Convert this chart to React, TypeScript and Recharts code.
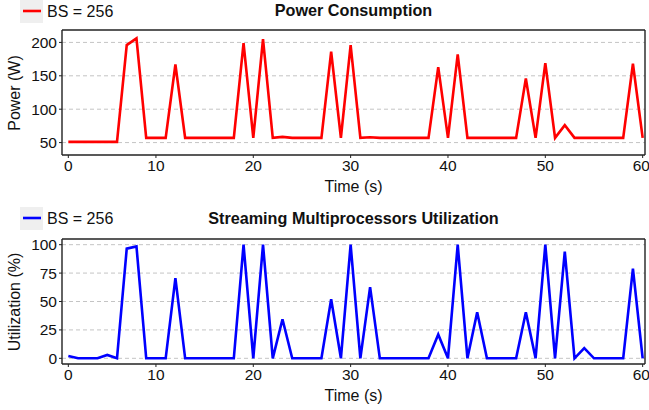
import React from "react";
import { LineChart, Line, XAxis, YAxis, CartesianGrid } from "recharts";

const TIME = [
  1, 2, 3, 4, 5, 6, 7, 8, 9, 10, 11, 12, 13, 14, 15, 16, 17, 18, 19, 20,
  21, 22, 23, 24, 25, 26, 27, 28, 29, 30, 31, 32, 33, 34, 35, 36, 37, 38, 39, 40,
  41, 42, 43, 44, 45, 46, 47, 48, 49, 50, 51, 52, 53, 54, 55, 56, 57, 58, 59, 60,
];

const POWER = [
  51, 51, 51, 51, 51, 51, 196, 206, 57, 57, 57, 167, 57, 57, 57, 57, 57, 57, 199, 57,
  205, 57, 58.5, 57, 57, 57, 57, 186, 57, 196, 57, 58, 57, 57, 57, 57, 57, 57, 163, 57,
  182, 57, 57, 57, 57, 57, 57, 146, 57, 169, 57, 76, 57, 57, 57, 57, 57, 57, 168, 57,
];

const UTIL = [
  2, 0, 0, 0, 3, 0, 96.5, 98.5, 0, 0, 0, 70.6, 0, 0, 0, 0, 0, 0, 100, 0,
  100, 0, 34.4, 0, 0, 0, 0, 52, 0, 100, 0, 62.7, 0, 0, 0, 0, 0, 0, 21, 0,
  100, 0, 40.6, 0, 0, 0, 0, 40.6, 0, 100, 0, 94, 0, 9, 0, 0, 0, 0, 79, 0,
];

const X_TICKS = [1, 10, 20, 30, 40, 50, 60];
const X_TICK_LABELS = ["0", "10", "20", "30", "40", "50", "60"];
const POWER_TICKS = [50, 100, 150, 200];
const POWER_GRID = [50, 75, 100, 125, 150, 175, 200];
const UTIL_TICKS = [0, 25, 50, 75, 100];
const UTIL_GRID = [0, 12.5, 25, 37.5, 50, 62.5, 75, 87.5, 100];
const SERIES_NAME = "BS = 256";

const powerData = TIME.map((t, i) => ({ t, v: POWER[i] }));
const utilData = TIME.map((t, i) => ({ t, v: UTIL[i] }));

const FONT = "'Liberation Sans', Arial, Helvetica, sans-serif";
const X_DOMAIN: [number, number] = [0.35, 60.24];
const AXIS_COLOR = "#222";

const fmtX = (v: number) => {
  const i = X_TICKS.indexOf(v);
  return i >= 0 ? X_TICK_LABELS[i] : String(v);
};

function Panel(props: {
  data: { t: number; v: number }[];
  color: string;
  domain: [number, number];
  ticks: number[];
  grid: number[];
  top: number;
}) {
  const { data, color, domain, ticks, grid, top } = props;
  return (
    <LineChart
      width={649}
      height={top + 171}
      data={data}
      margin={{ top: top - 1, right: 0, bottom: 16, left: 0 }}
      style={{ fontFamily: FONT }}
    >
      <CartesianGrid
        xAxisId="b"
        yAxisId="l"
        vertical={false}
        horizontalValues={grid}
        stroke="#c4c4c4"
        strokeDasharray="4 3"
      />
      <XAxis
        xAxisId="b"
        type="number"
        dataKey="t"
        domain={X_DOMAIN}
        allowDataOverflow
        ticks={X_TICKS}
        tickFormatter={fmtX}
        height={30}
        tickSize={3}
        axisLine={{ stroke: AXIS_COLOR, strokeWidth: 1.4 }}
        tickLine={{ stroke: AXIS_COLOR }}
        tick={{ fill: "#111", fontSize: 15.5 }}
      />
      <XAxis
        xAxisId="top"
        orientation="top"
        type="number"
        dataKey="t"
        domain={X_DOMAIN}
        allowDataOverflow
        height={1}
        tick={false}
        tickLine={false}
        axisLine={{ stroke: AXIS_COLOR, strokeWidth: 1.4 }}
      />
      <YAxis
        yAxisId="l"
        type="number"
        domain={domain}
        allowDataOverflow
        ticks={ticks}
        width={62}
        tickSize={3}
        axisLine={{ stroke: AXIS_COLOR, strokeWidth: 1.4 }}
        tickLine={{ stroke: AXIS_COLOR }}
        tick={{ fill: "#111", fontSize: 15.5 }}
      />
      <YAxis
        yAxisId="r"
        orientation="right"
        type="number"
        domain={domain}
        width={4}
        tick={false}
        tickLine={false}
        axisLine={{ stroke: AXIS_COLOR, strokeWidth: 1.4 }}
      />
      <Line
        xAxisId="b"
        yAxisId="l"
        type="linear"
        dataKey="v"
        stroke={color}
        strokeWidth={2.6}
        dot={false}
        activeDot={false}
        isAnimationActive={false}
      />
    </LineChart>
  );
}

function LegendBox(props: { top: number; color: string }) {
  return (
    <div style={{ position: "absolute", left: 20, top: props.top, height: 23, display: "flex", alignItems: "center" }}>
      <div style={{ width: 23, height: 23, background: "#efefef", position: "relative" }}>
        <svg width={23} height={23} style={{ position: "absolute", left: 0, top: 0 }}>
          <line x1={3} x2={21} y1={11} y2={11} stroke={props.color} strokeWidth={2.6} />
        </svg>
      </div>
      <span style={{ marginLeft: 4, fontSize: 16, color: "#111", lineHeight: "23px" }}>{SERIES_NAME}</span>
    </div>
  );
}

function Title(props: { top: number; text: string }) {
  return (
    <div
      style={{
        position: "absolute",
        left: 62,
        width: 583,
        top: props.top,
        lineHeight: "20px",
        textAlign: "center",
        fontWeight: "bold",
        fontSize: 16.2,
        color: "#111",
      }}
    >
      {props.text}
    </div>
  );
}

function XTitle(props: { top: number }) {
  return (
    <div
      style={{
        position: "absolute",
        left: 62,
        width: 583,
        top: props.top,
        lineHeight: "20px",
        textAlign: "center",
        fontSize: 16,
        color: "#111",
      }}
    >
      Time (s)
    </div>
  );
}

function YTitle(props: { cy: number; text: string }) {
  return (
    <div
      style={{
        position: "absolute",
        left: 15.3,
        top: props.cy,
        transform: "translate(-50%, -50%) rotate(-90deg)",
        whiteSpace: "nowrap",
        fontSize: 16,
        lineHeight: "18px",
        color: "#111",
      }}
    >
      {props.text}
    </div>
  );
}

export default function App() {
  return (
    <div
      style={{
        position: "absolute",
        left: 0,
        top: 0,
        width: 649,
        height: 410,
        background: "#fff",
        fontFamily: FONT,
        overflow: "hidden",
      }}
    >
      <div style={{ position: "absolute", left: 0, top: 0 }}>
        <Panel data={powerData} color="#ff0000" domain={[31.4, 218.6]} ticks={POWER_TICKS} grid={POWER_GRID} top={30} />
      </div>
      <div style={{ position: "absolute", left: 0, top: 200 }}>
        <Panel data={utilData} color="#0000ff" domain={[-5, 105]} ticks={UTIL_TICKS} grid={UTIL_GRID} top={39} />
      </div>
      <LegendBox top={0} color="#ff0000" />
      <LegendBox top={207} color="#0000ff" />
      <Title top={0} text="Power Consumption" />
      <Title top={208} text="Streaming Multiprocessors Utilization" />
      <XTitle top={177} />
      <XTitle top={386} />
      <YTitle cy={93.3} text="Power (W)" />
      <YTitle cy={301.7} text="Utilization (%)" />
    </div>
  );
}
